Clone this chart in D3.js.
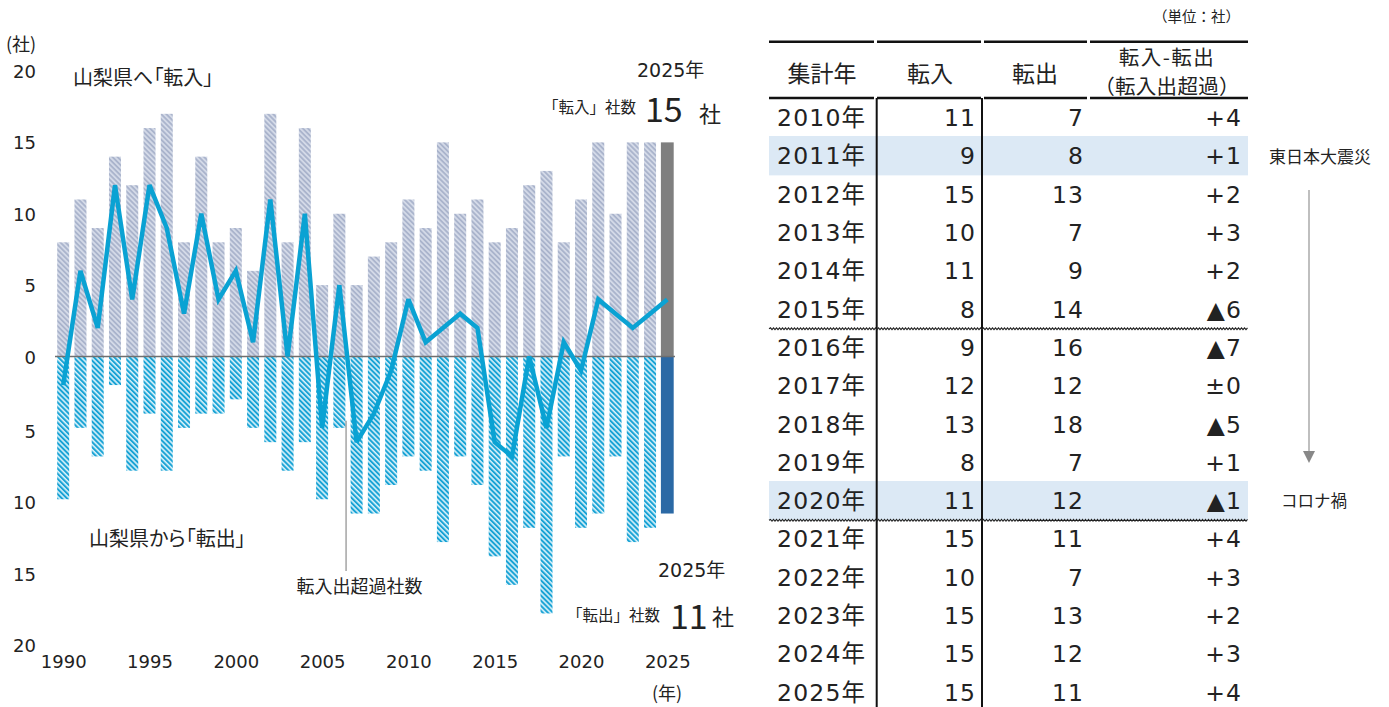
<!DOCTYPE html>
<html><head><meta charset="utf-8">
<script src="https://cdn.jsdelivr.net/npm/d3@7"></script>
<style>
html,body{margin:0;padding:0;background:#fff;}
svg{display:block;}
</style></head>
<body>
<svg id="c" width="1389" height="707"></svg>
<script>
// ---------- data ----------
const years = [1990,1991,1992,1993,1994,1995,1996,1997,1998,1999,
               2000,2001,2002,2003,2004,2005,2006,2007,2008,2009,
               2010,2011,2012,2013,2014,2015,2016,2017,2018,2019,
               2020,2021,2022,2023,2024,2025];
const inflow  = [8,11,9,14,12,16,17,8,14,8,
                 9,6,17,8,16,5,10,5,7,8,
                 11,9,15,10,11,8,9,12,13,8,
                 11,15,10,15,15,15];
const outflow = [10,5,7,2,8,4,8,5,4,4,
                 3,5,6,8,6,10,5,11,11,9,
                 7,8,13,7,9,14,16,12,18,7,
                 12,11,7,13,12,11];
const netflow = [-2,6,2,12,4,12,9,3,10,4,
                 6,1,11,0,10,-5,5,-6,-4,-1,
                 4,1,2,3,2,-6,-7,0,-5,1,
                 -1,4,3,2,3,4];
const yTicks = [-20,-15,-10,-5,0,5,10,15,20];
const xTicks = [1990,1995,2000,2005,2010,2015,2020,2025];

const tableYears = [2010,2011,2012,2013,2014,2015,2016,2017,2018,2019,2020,2021,2022,2023,2024,2025];
const tableIn    = [11,9,15,10,11,8,9,12,13,8,11,15,10,15,15,15];
const tableOut   = [7,8,13,7,9,14,16,12,18,7,12,11,7,13,12,11];
const tableNet   = ["+4","+1","+2","+3","+2","▲6","▲7","±0","▲5","+1","▲1","+4","+3","+2","+3","+4"];
const tableHeaders = ["集計年","転入","転出"];
const highlightYears = [2011,2020];
const wavyAfter = [2015,2020];

// ---------- setup ----------
const svg = d3.select("#c");
const CJK = "'Noto Sans CJK JP', sans-serif";
const NUM = "'DejaVu Sans', 'Noto Sans CJK JP', sans-serif";
const TXT = "#222";

const defs = svg.append("defs");
function hatch(id, bg, fg, w, sw){
  const p = defs.append("pattern").attr("id", id)
    .attr("patternUnits","userSpaceOnUse").attr("width", w).attr("height", w)
    .attr("patternTransform","rotate(-45)");
  p.append("rect").attr("width", w).attr("height", w).attr("fill", bg);
  p.append("rect").attr("width", sw).attr("height", w).attr("fill", fg);
}
hatch("hIn", "#d3d9e7", "#aab4cc", 3.6, 1.8);
hatch("hOut", "#d8f1fa", "#19a3d5", 3.6, 2.0);

const x = d3.scaleLinear().domain([1990, 2025]).range([63.2, 667.3]);
const y = d3.scaleLinear().domain([-20, 20]).range([642, 71]);
const bw = 12;

// bars
const data = years.map((yr,i)=>({yr, inn: inflow[i], out: outflow[i], net: netflow[i]}));
const last = years[years.length-1];

svg.append("g").selectAll("rect").data(data).join("rect")
  .attr("x", d=>x(d.yr)-bw/2 - (d.yr===last?0.4:0))
  .attr("width", d=> d.yr===last? bw+0.8 : bw)
  .attr("y", d=>y(d.inn))
  .attr("height", d=>y(0)-y(d.inn))
  .attr("fill", d=> d.yr===last ? "#7f7f7f" : "url(#hIn)");

svg.append("g").selectAll("rect").data(data).join("rect")
  .attr("x", d=>x(d.yr)-bw/2 - (d.yr===last?0.4:0))
  .attr("width", d=> d.yr===last? bw+0.8 : bw)
  .attr("y", y(0))
  .attr("height", d=>y(-d.out)-y(0))
  .attr("fill", d=> d.yr===last ? "#2b69a5" : "url(#hOut)");

// zero line
svg.append("line").attr("x1", 55).attr("x2", 675)
  .attr("y1", y(0)).attr("y2", y(0))
  .attr("stroke","#6f6f6f").attr("stroke-width",1.5);

// net line
svg.append("path").datum(data)
  .attr("d", d3.line().x(d=>x(d.yr)).y(d=>y(d.net)))
  .attr("fill","none").attr("stroke","#0aa2d3").attr("stroke-width",4.5)
  .attr("stroke-linejoin","miter").attr("stroke-miterlimit",3);

// y axis
const ya = svg.append("g").attr("transform","translate(36,0)")
  .call(d3.axisLeft(y).tickValues(yTicks).tickFormat(d=>Math.abs(d)).tickSize(0).tickPadding(0));
ya.select(".domain").remove();
ya.selectAll("text").attr("font-family", NUM).attr("font-size", 18).attr("fill", TXT)
  .attr("dy", null).attr("dominant-baseline","central")
  .attr("y", d => d < 0 ? 3 : 0);

// x axis
const xa = svg.append("g").attr("transform","translate(0,648)")
  .call(d3.axisBottom(x).tickValues(xTicks).tickFormat(d3.format("d")).tickSize(0).tickPadding(0));
xa.select(".domain").remove();
xa.selectAll("text").attr("font-family", NUM).attr("font-size", 18).attr("fill", TXT)
  .attr("dy", null).attr("y", 13.5).attr("dominant-baseline","central");

function txt(s, tx, ty, size, anchor, fam, extra){
  const t = svg.append("text").attr("x", tx).attr("y", ty)
    .attr("font-family", fam||CJK).attr("font-size", size)
    .attr("text-anchor", anchor||"start").attr("dominant-baseline","central")
    .attr("fill", TXT).text(s);
  if (extra) extra(t);
  return t;
}
const palt = t => t.style("font-feature-settings", "'palt'");

// chart annotations
txt("(社)", 6, 43, 18);
txt("(年)", 652, 692, 18);
txt("山梨県へ「転入」", 73, 76, 20, "start", CJK, palt);
txt("山梨県から「転出」", 89, 537, 20, "start", CJK, palt);
txt("2025年", 637, 70, 19, "start", NUM);
txt("「転入」社数", 543, 106, 15.5);
txt(String(inflow[inflow.length-1]), 645, 107.5, 34, "start", CJK);
txt("社", 699, 112, 22);
txt("2025年", 658, 570, 19, "start", NUM);
txt("「転出」社数", 567, 614, 15.5);
txt(String(outflow[outflow.length-1]), 670, 614, 34, "start", CJK);
txt("社", 712, 615, 22);

// leader line for net
svg.append("line").attr("x1", x(2006)+bw/2+0.7).attr("x2", x(2006)+bw/2+0.7)
  .attr("y1", y(-4.5)).attr("y2", 571)
  .attr("stroke","#777").attr("stroke-width",1);
txt("転入出超過社数", 359.5, 585, 18, "middle");

// ---------- table ----------
const rowBand = d3.scaleBand().domain(tableYears).range([98.7, 98.7 + 38.33*tableYears.length]);
const tX0 = 769, tX1 = 1248;

// highlights
svg.append("g").selectAll("rect").data(highlightYears).join("rect")
  .attr("x", tX0).attr("width", tX1 - tX0)
  .attr("y", d=>rowBand(d)-1).attr("height", rowBand.bandwidth()+1)
  .attr("fill","#dce9f5");

// header lines
const segs = [[769,874],[877,981],[984,1087],[1090,1248]];
[41.7, 98].forEach(ly=>{
  svg.append("g").selectAll("line").data(segs).join("line")
    .attr("x1", d=>d[0]).attr("x2", d=>d[1]).attr("y1", ly).attr("y2", ly)
    .attr("stroke","#111").attr("stroke-width",2.6);
});
// vertical lines
[876.7, 982].forEach(vx=>{
  svg.append("line").attr("x1", vx).attr("x2", vx).attr("y1", 98).attr("y2", 707)
    .attr("stroke","#111").attr("stroke-width",2);
});
// wavy lines
wavyAfter.forEach(yr=>{
  const ly = rowBand(yr) + rowBand.bandwidth();
  let d = "M" + tX0 + "," + ly;
  let up = true;
  for (let xx = tX0 + 1.5; xx <= tX1; xx += 1.5){ d += "L" + xx + "," + (ly + (up?-0.9:0.9)); up = !up; }
  svg.append("path").attr("d", d).attr("fill","none").attr("stroke","#222").attr("stroke-width",1.1);
});

// headers
const hx = [822, 930, 1035];
tableHeaders.forEach((h,i)=> txt(h, hx[i], 71.7, 23, "middle"));
txt("転入-転出", 1167, 55.5, 20.5, "middle", CJK, t=>t.attr("letter-spacing", 1.5));
txt("（転入出超過）", 1167, 85, 20.5, "middle", CJK, t=>t.attr("letter-spacing", 0.3));
txt("（単位：社）", 1240, 15, 14.5, "end");

// rows
const TS = 23.5, LS = 1.2;
const rows = svg.append("g").selectAll("g").data(tableYears).join("g")
  .attr("transform", d=>`translate(0,${rowBand(d)+rowBand.bandwidth()/2})`);
rows.append("text").attr("x", 777).text(d=>d+"年");
rows.append("text").attr("x", 975+LS).attr("text-anchor","end").text((d,i)=>tableIn[i]);
rows.append("text").attr("x", 1083+LS).attr("text-anchor","end").text((d,i)=>tableOut[i]);
rows.append("text").attr("x", 1241+LS).attr("text-anchor","end").text((d,i)=>tableNet[i]);
rows.selectAll("text").attr("font-family", NUM).attr("font-size", TS)
  .attr("letter-spacing", LS).attr("dominant-baseline","central").attr("fill", TXT);

// side notes
txt("東日本大震災", 1320, 155, 17, "middle");
txt("コロナ禍", 1314, 500, 16.5, "middle");
svg.append("line").attr("x1",1309).attr("x2",1309).attr("y1",190).attr("y2",452)
  .attr("stroke","#aaa").attr("stroke-width",1.5);
svg.append("path").attr("d","M1303,451 L1315,451 L1309,463 Z").attr("fill","#888");
</script>
</body></html>
